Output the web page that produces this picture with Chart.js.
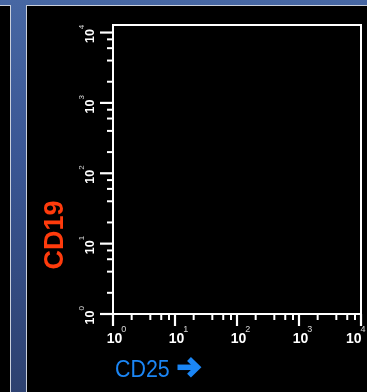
<!DOCTYPE html>
<html>
<head>
<meta charset="utf-8">
<script src="https://cdn.jsdelivr.net/npm/chart.js@4.4.1/dist/chart.umd.min.js"></script>
<style>
  html, body { margin: 0; padding: 0; width: 367px; height: 392px; overflow: hidden; background: #000; }
  #stage { position: relative; width: 367px; height: 392px; background: linear-gradient(#4767a3 0%, #3a5694 40%, #2d4170 100%); }
  .panel { position: absolute; background: #000; box-sizing: border-box; border: 1.5px solid #c9cfdb; }
  #leftPanel { left: -20px; top: 5px; width: 31px; height: 400px; }
  #mainPanel { left: 26px; top: 5px; width: 360px; height: 400px; }
  #chartWrap { position: absolute; left: 0; top: 0; width: 367px; height: 392px; }
</style>
</head>
<body>
<div id="stage">
  <div id="leftPanel" class="panel"></div>
  <div id="mainPanel" class="panel"></div>
  <div id="chartWrap"><canvas id="plot" width="367" height="392"></canvas></div>
</div>
<script>
// Decade exponents used for major tick labels on both log axes
const decadeExponents = [0, 1, 2, 3, 4];
// Minor tick multipliers inside each decade
const minorMultipliers = [2, 4, 6, 8];
// Event values (CD25, CD19) — this plot holds no events
const cd25Values = [];
const cd19Values = [];

const xTitle = 'CD25';
const yTitle = 'CD19';

const points = cd25Values.map((v, i) => ({ x: v, y: cd19Values[i] }));

// Draws the frame, log ticks with superscript labels, and the axis titles
const flowAxes = {
  id: 'flowAxes',
  afterDraw(chart) {
    const ctx = chart.ctx;
    const xs = chart.scales.x, ys = chart.scales.y;
    const a = chart.chartArea;
    const yBottom = ys.getPixelForValue(1);
    ctx.save();
    ctx.strokeStyle = '#ffffff';
    ctx.fillStyle = '#ffffff';
    ctx.lineWidth = 2;
    ctx.lineCap = 'butt';

    // box
    ctx.beginPath();
    ctx.moveTo(a.left, yBottom);
    ctx.lineTo(a.left, a.top);
    ctx.lineTo(a.right, a.top);
    ctx.lineTo(a.right, yBottom);
    ctx.stroke();
    ctx.beginPath();
    ctx.moveTo(a.left - 13, yBottom);
    ctx.lineTo(a.right, yBottom);
    ctx.stroke();

    // x ticks
    decadeExponents.forEach((e, i) => {
      const base = Math.pow(10, e);
      const px = xs.getPixelForValue(base);
      ctx.lineWidth = 2.2;
      ctx.beginPath(); ctx.moveTo(px, yBottom); ctx.lineTo(px, yBottom + 12); ctx.stroke();
      if (i < decadeExponents.length - 1) {
        minorMultipliers.forEach(m => {
          const p = xs.getPixelForValue(base * m);
          ctx.lineWidth = 2;
          ctx.beginPath(); ctx.moveTo(p, yBottom); ctx.lineTo(p, yBottom + 6); ctx.stroke();
        });
      }
      // label
      ctx.font = 'bold 14px "Liberation Sans", Arial, sans-serif';
      const w = ctx.measureText('10').width;
      ctx.font = '9px "Liberation Sans", Arial, sans-serif';
      const sw = ctx.measureText(String(e)).width;
      const total = w + sw;
      let left = px + 4 - total / 2;
      if (left + total > 367) left = 367 - total - 0.5;
      ctx.textBaseline = 'alphabetic';
      ctx.textAlign = 'left';
      ctx.fillStyle = '#ffffff';
      ctx.font = 'bold 14px "Liberation Sans", Arial, sans-serif';
      ctx.fillText('10', left, yBottom + 29);
      ctx.fillStyle = '#d8d8d8';
      ctx.font = '9px "Liberation Sans", Arial, sans-serif';
      ctx.fillText(String(e), left + w - 1, yBottom + 18);
    });

    // y ticks
    ctx.fillStyle = '#ffffff';
    decadeExponents.forEach((e, i) => {
      const base = Math.pow(10, e);
      const py = ys.getPixelForValue(base);
      ctx.lineWidth = 2.2;
      ctx.beginPath(); ctx.moveTo(a.left - 13, py); ctx.lineTo(a.left, py); ctx.stroke();
      if (i < decadeExponents.length - 1) {
        minorMultipliers.forEach(m => {
          const p = ys.getPixelForValue(base * m);
          ctx.lineWidth = 2;
          ctx.beginPath(); ctx.moveTo(a.left - 6, p); ctx.lineTo(a.left, p); ctx.stroke();
        });
      }
      // rotated label, reading bottom to top
      ctx.save();
      ctx.translate(93.5, py);
      ctx.rotate(-Math.PI / 2);
      ctx.font = 'bold 12.5px "Liberation Sans", Arial, sans-serif';
      const w = ctx.measureText('10').width;
      const left = -10.5;
      ctx.textAlign = 'left';
      ctx.textBaseline = 'alphabetic';
      ctx.fillStyle = '#ffffff';
      ctx.fillText('10', left, 0);
      ctx.fillStyle = '#d8d8d8';
      ctx.font = '8px "Liberation Sans", Arial, sans-serif';
      ctx.fillText(String(e), left + w, -10);
      ctx.restore();
    });

    // y title
    ctx.save();
    ctx.translate(63, 235);
    ctx.rotate(-Math.PI / 2);
    ctx.fillStyle = '#ff3b0c';
    ctx.font = 'bold 27px "Liberation Sans", Arial, sans-serif';
    ctx.textAlign = 'center';
    ctx.textBaseline = 'alphabetic';
    ctx.fillText(yTitle, 0, 0);
    ctx.restore();

    // x title
    ctx.fillStyle = '#1b86f5';
    ctx.strokeStyle = '#1b86f5';
    ctx.textAlign = 'left';
    ctx.textBaseline = 'alphabetic';
    ctx.save();
    ctx.translate(115, 377);
    ctx.scale(0.93, 1);
    ctx.font = '23px "Liberation Sans", Arial, sans-serif';
    ctx.fillText(xTitle, 0, 0);
    ctx.restore();

    // heavy arrow after the x title
    ctx.lineWidth = 5.5;
    ctx.lineCap = 'butt';
    ctx.lineJoin = 'miter';
    ctx.beginPath();
    ctx.moveTo(177.5, 367.3);
    ctx.lineTo(196, 367.3);
    ctx.stroke();
    ctx.beginPath();
    ctx.moveTo(189, 359);
    ctx.lineTo(197.5, 367.3);
    ctx.lineTo(189, 375.6);
    ctx.stroke();
    ctx.restore();
  }
};

new Chart(document.getElementById('plot'), {
  type: 'scatter',
  data: {
    datasets: [{
      label: yTitle + ' vs ' + xTitle,
      data: points,
      pointRadius: 1,
      backgroundColor: '#ffffff'
    }]
  },
  options: {
    responsive: false,
    animation: false,
    layout: { padding: { left: 113, top: 25, right: 6, bottom: 78 } },
    plugins: { legend: { display: false }, tooltip: { enabled: false } },
    scales: {
      x: { type: 'logarithmic', min: 1, max: 10000, display: false },
      y: { type: 'logarithmic', min: 1, max: 12800, display: false }
    }
  },
  plugins: [flowAxes]
});
</script>
</body>
</html>
